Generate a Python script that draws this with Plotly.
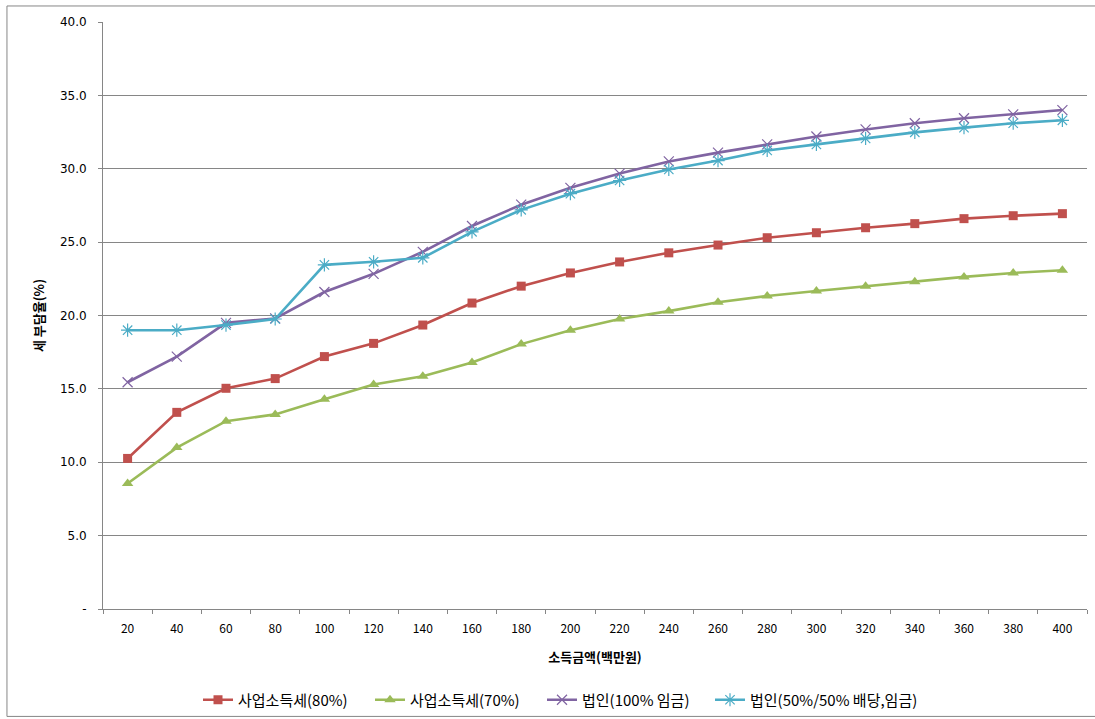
import plotly.graph_objects as go

x_labels = ["20", "40", "60", "80", "100", "120", "140", "160", "180", "200",
            "220", "240", "260", "280", "300", "320", "340", "360", "380", "400"]

biz_80 = [10.26, 13.4, 15.04, 15.7, 17.2, 18.1, 19.35, 20.85, 22.0, 22.9,
          23.65, 24.27, 24.8, 25.3, 25.64, 25.98, 26.26, 26.6, 26.8, 26.94]
biz_70 = [8.55, 11.0, 12.8, 13.26, 14.3, 15.3, 15.86, 16.8, 18.05, 19.0,
          19.76, 20.3, 20.9, 21.33, 21.67, 22.0, 22.3, 22.63, 22.9, 23.08]
corp_100 = [15.45, 17.2, 19.5, 19.8, 21.6, 22.84, 24.34, 26.1, 27.55, 28.7,
            29.67, 30.5, 31.1, 31.66, 32.2, 32.68, 33.1, 33.44, 33.7, 34.0]
corp_50 = [19.0, 19.0, 19.35, 19.76, 23.45, 23.66, 23.93, 25.7, 27.2, 28.3,
           29.2, 29.95, 30.56, 31.25, 31.66, 32.07, 32.48, 32.8, 33.1, 33.3]

series_names = ["사업소득세(80%)", "사업소득세(70%)", "법인(100% 임금)", "법인(50%/50% 배당,임금)"]

y_tickvals = [0, 5, 10, 15, 20, 25, 30, 35, 40]
y_ticktext = ["-", "5.0", "10.0", "15.0", "20.0", "25.0", "30.0", "35.0", "40.0"]

KR = "Noto Sans CJK KR"

fig = go.Figure()
styles = [
    (biz_80, "#C0504D", dict(symbol="square", size=9, color="#C0504D"), "legend"),
    (biz_70, "#9BBB59", dict(symbol="triangle-up", size=10, color="#9BBB59"), "legend"),
    (corp_100, "#8064A2", dict(symbol="x-thin-open", size=10, color="#8064A2", line=dict(width=1.2, color="#8064A2")), "legend"),
    (corp_50, "#4BACC6", dict(symbol="asterisk-open", size=11, color="#4BACC6", line=dict(width=1.2, color="#4BACC6")), "legend2"),
]
for (vals, col, mk, lg), name in zip(styles, series_names):
    fig.add_trace(go.Scatter(
        x=x_labels, y=vals, name=name, mode="lines+markers",
        line=dict(color=col, width=2.6), marker=mk, legend=lg,
    ))

legend_common = dict(orientation="h", xanchor="left", xref="container",
                     y=1 - 700 / 719, yanchor="middle", yref="container",
                     font=dict(family=KR, size=15), itemwidth=30,
                     bgcolor="rgba(0,0,0,0)")

fig.update_layout(
    width=1095, height=719,
    paper_bgcolor="white", plot_bgcolor="white",
    margin=dict(l=103, r=8, t=22, b=110, autoexpand=False),
    font=dict(family=KR, size=12, color="#000000"),
    showlegend=True,
    legend=dict(x=198 / 1095, entrywidth=127, **legend_common),
    legend2=dict(x=710 / 1095, **legend_common),
    xaxis=dict(
        type="category", range=[-0.5, 19.5], automargin=False,
        showgrid=False, showline=True, linecolor="#868686", linewidth=1,
        ticks="outside", tickson="boundaries", ticklen=4, tickcolor="#868686",
        tickfont=dict(family=KR, size=12), ticklabelstandoff=9,
        title=dict(text="<b>소득금액(백만원)</b>", font=dict(family=KR, size=13), standoff=17),
    ),
    yaxis=dict(
        range=[0, 40], tickvals=y_tickvals, ticktext=y_ticktext, automargin=False,
        showgrid=True, gridcolor="#868686", gridwidth=1,
        showline=True, linecolor="#868686", linewidth=1,
        ticks="outside", ticklen=4, tickcolor="#868686",
        tickfont=dict(family="DejaVu Sans", size=12), zeroline=False,
        ticklabelstandoff=9,
        title=dict(text="<b>세 부담율(%)</b>", font=dict(family=KR, size=13), standoff=12),
    ),
    shapes=[dict(type="rect", xref="paper", yref="paper",
                 x0=-0.0976, x1=1.02, y0=-0.183, y1=1.0273,
                 line=dict(color="#868686", width=1))],
)

fig.write_html("out.html")
